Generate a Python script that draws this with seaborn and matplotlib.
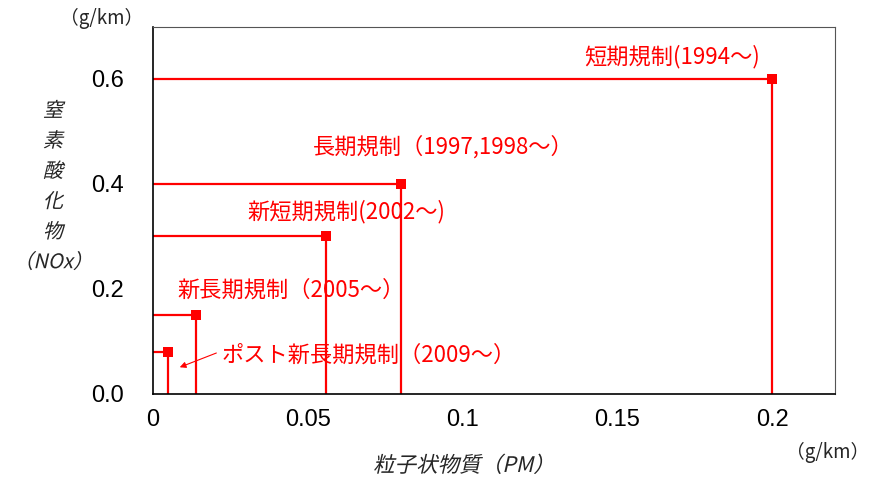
import matplotlib
matplotlib.use("Agg")

import matplotlib.pyplot as plt
import pandas as pd
import seaborn as sns
from matplotlib.patheffects import AbstractPathEffect
from matplotlib.transforms import Affine2D


# regulation limits (g/km)
REGULATIONS = [
    "短期規制(1994～)",
    "長期規制（1997,1998～）",
    "新短期規制(2002～)",
    "新長期規制（2005～）",
    "ポスト新長期規制（2009～）",
]
PM_VALUES = [0.2, 0.08, 0.056, 0.014, 0.005]
NOX_VALUES = [0.6, 0.4, 0.3, 0.15, 0.08]
X_TICKS = [0, 0.05, 0.1, 0.15, 0.2]
X_TICK_LABELS = ["0", "0.05", "0.1", "0.15", "0.2"]
Y_TICKS = [0.0, 0.2, 0.4, 0.6]
Y_TICK_LABELS = ["0.0", "0.2", "0.4", "0.6"]

RED = "#ff0000"
FONTS = ["Noto Sans CJK JP", "DejaVu Sans"]
TICK_FONTS = ["Liberation Sans", "DejaVu Sans"]


class Slant(AbstractPathEffect):
    """Fake italic: the CJK font has no oblique face."""

    def __init__(self, deg=13):
        super().__init__()
        self._skew = Affine2D().skew_deg(deg, 0)

    def draw_path(self, renderer, gc, tpath, affine, rgbFace=None):
        renderer.draw_path(gc, tpath, self._skew + affine, rgbFace)


def main() -> None:
    df = pd.DataFrame({"name": REGULATIONS, "pm": PM_VALUES, "nox": NOX_VALUES})

    sns.set_theme(style="white")
    plt.rcParams["font.family"] = FONTS

    fig = plt.figure(figsize=(8.73, 4.80), dpi=100)
    ax = fig.add_axes([153 / 873, 1 - 394 / 480, (835 - 153) / 873, (394 - 27) / 480])

    ax.hlines(df["nox"], 0, df["pm"], color=RED, linewidth=1.6, zorder=2)
    ax.vlines(df["pm"], 0, df["nox"], color=RED, linewidth=1.6, zorder=2)
    sns.scatterplot(
        data=df, x="pm", y="nox", ax=ax, marker="s", s=55,
        color=RED, edgecolor=RED, linewidth=0, zorder=3, legend=False,
    )

    ax.set_xlim(0, 0.2203)
    ax.set_ylim(0, 0.699)
    ax.set_xticks(X_TICKS, X_TICK_LABELS)
    ax.set_yticks(Y_TICKS, Y_TICK_LABELS)
    ax.tick_params(axis="both", labelsize=17, length=0, labelcolor="black")
    ax.tick_params(axis="x", pad=11)
    ax.tick_params(axis="y", pad=21)
    for lbl in ax.get_xticklabels() + ax.get_yticklabels():
        lbl.set_family(TICK_FONTS)
    ax.set_xlabel("")
    ax.set_ylabel("")

    for side in ["left", "bottom"]:
        ax.spines[side].set_color("black")
        ax.spines[side].set_linewidth(1.2)
    for side in ["top", "right"]:
        ax.spines[side].set_color("#555555")
        ax.spines[side].set_linewidth(0.8)

    # labels next to each regulation step
    label_pos = [
        (0.1677, 0.642, "center"),
        (0.0515, 0.470, "left"),
        (0.0305, 0.347, "left"),
        (0.0080, 0.198, "left"),
        (0.0222, 0.074, "left"),
    ]
    for name, (x, y, ha) in zip(REGULATIONS, label_pos):
        ax.text(x, y, name, color=RED, fontsize=16, ha=ha, va="center",
                family=FONTS)

    ax.annotate(
        "", xy=(0.0078, 0.049), xytext=(0.0213, 0.080),
        arrowprops=dict(arrowstyle="-|>", color=RED, lw=0.8, mutation_scale=9),
    )

    slant = [Slant(13)]
    fig.text(53 / 873, 1 - 187 / 480, "窒\n素\n酸\n化\n物\n（NOx）", ha="center",
             va="center", fontsize=14.5, linespacing=1.58,
             family=FONTS, path_effects=slant)
    fig.text(102 / 873, 1 - 18 / 480, "（g/km）", ha="center", va="center",
             fontsize=13.5, family=FONTS)
    fig.text(828 / 873, 1 - 452 / 480, "（g/km）", ha="center", va="center",
             fontsize=13.5, family=FONTS)
    fig.text(373 / 873, 1 - 466 / 480, "粒子状物質（PM）", ha="left", va="center",
             fontsize=15.5, family=FONTS, path_effects=slant)

    fig.savefig("out.png", dpi=100)
    plt.close(fig)


if __name__ == "__main__":
    main()
